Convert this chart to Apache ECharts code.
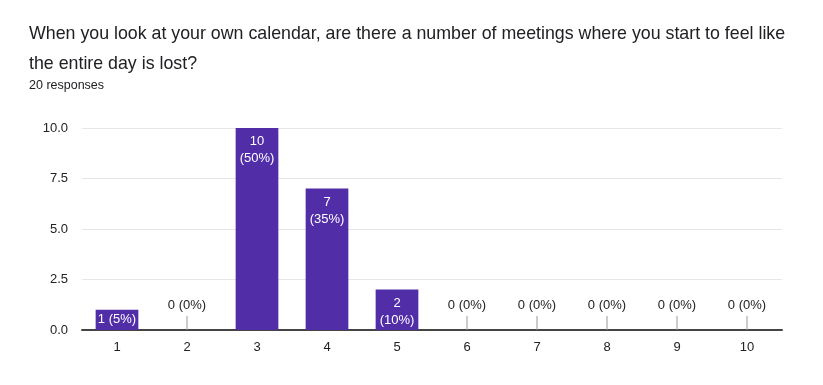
<!DOCTYPE html>
<html>
<head>
<meta charset="utf-8">
<script src="https://cdn.jsdelivr.net/npm/echarts@6/dist/echarts.min.js"></script>
<style>html,body{margin:0;padding:0;background:#fff}#c{width:823px;height:385px}</style>
</head>
<body>
<div id="c"></div>
<script>
var titleText = 'When you look at your own calendar, are there a number of meetings where you start to feel like\nthe entire day is lost?';
var subText = '20 responses';
var categories = ['1','2','3','4','5','6','7','8','9','10'];
var counts = [1, 0, 10, 7, 2, 0, 0, 0, 0, 0];
var total = 20;
var yTicks = [0, 2.5, 5, 7.5, 10];

var FONT = 'Liberation Sans, Arial, sans-serif';
var PURPLE = '#512da8';

function pct(v){ return Math.round(v / total * 100) + '%'; }

var barData = counts.map(function(v, i){
  var item = { value: v };
  if (v === 0) {
    item.label = { show: true, position: 'top', distance: 16, color: '#222', formatter: v + ' (' + pct(v) + ')' };
  } else if (v === 1) {
    item.label = { show: true, position: 'inside', color: '#fff', formatter: v + ' (' + pct(v) + ')' };
  } else {
    item.label = { show: true, position: 'insideTop', distance: 5, color: '#fff', formatter: v + '\n(' + pct(v) + ')' };
  }
  return item;
});

var zeroData = [];
counts.forEach(function(v, i){ if (v === 0) zeroData.push([i, v]); });

var chart = echarts.init(document.getElementById('c'), null, { renderer: 'canvas' });
chart.setOption({
  animation: false,
  textStyle: { fontFamily: FONT },
  title: [
    { text: titleText, left: 29, top: 19, padding: 0, textStyle: { fontFamily: FONT, fontSize: 17.8, fontWeight: 'normal', color: '#202124', lineHeight: 30 } },
    { text: subText, left: 29, top: 79.5, padding: 0, textStyle: { fontFamily: FONT, fontSize: 12.5, fontWeight: 'normal', color: '#202124' } }
  ],
  grid: { left: 82, right: 41, top: 128, bottom: 55, containLabel: false },
  xAxis: {
    type: 'category',
    data: categories,
    axisLine: { show: true, lineStyle: { color: '#444', width: 2 } },
    axisTick: { show: false },
    axisLabel: { color: '#222', fontSize: 13, margin: 11, fontFamily: FONT }
  },
  yAxis: {
    type: 'value',
    min: yTicks[0],
    max: yTicks[yTicks.length - 1],
    interval: 2.5,
    axisLine: { show: false },
    axisTick: { show: false },
    axisLabel: { color: '#222', fontSize: 13, margin: 14, fontFamily: FONT, formatter: function(v){ return v.toFixed(1); } },
    splitLine: { lineStyle: { color: '#e6e6e6', width: 1 } }
  },
  series: [
    {
      type: 'bar',
      data: barData,
      barWidth: '61%',
      itemStyle: { color: PURPLE },
      label: { show: true, fontSize: 13, lineHeight: 17, fontFamily: FONT },
      z: 2
    },
    {
      type: 'custom',
      data: zeroData,
      renderItem: function(params, api){
        var p = api.coord([api.value(0), api.value(1)]);
        return { type: 'line', shape: { x1: p[0], y1: p[1], x2: p[0], y2: p[1] - 14 }, style: { stroke: '#999', lineWidth: 1 } };
      },
      z: 3
    }
  ]
});
</script>
</body>
</html>
